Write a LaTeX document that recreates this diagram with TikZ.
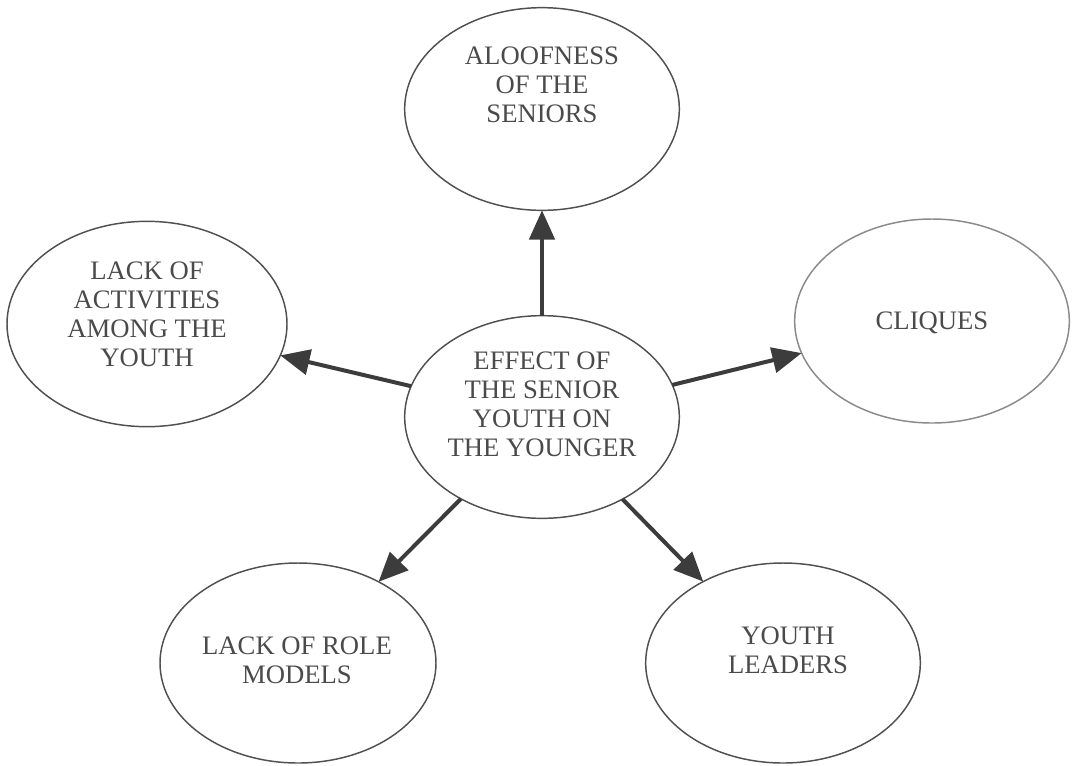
\documentclass[tikz,border=0pt]{standalone}
\usepackage{fontspec}
\setmainfont{Liberation Serif}
\usetikzlibrary{shapes.geometric,arrows.meta}
\definecolor{inkgray}{HTML}{4A4A4A}
\definecolor{ringgray}{HTML}{505050}
\definecolor{lightring}{HTML}{8A8A8A}
\definecolor{arrowgray}{HTML}{3C3C3C}
\begin{document}
\begin{tikzpicture}[x=0.75pt,y=-0.75pt,
  bubble/.style={ellipse,draw=ringgray,line width=1.1pt,inner sep=0pt,outer sep=0pt},
  label/.style={anchor=north,align=center,inner sep=0pt,text=inkgray,font=\fontsize{20}{21.75}\selectfont},
  link/.style={draw=arrowgray,line width=3pt,-{Triangle[length=22pt,width=19pt]}}]
\useasboundingbox (0,0) rectangle (1075,765);
% ellipses
\node[bubble,minimum width=206pt,minimum height=152pt] (c) at (542,417) {};
\node[bubble,minimum width=206pt,minimum height=152pt] (top) at (542,109) {};
\node[bubble,minimum width=210pt,minimum height=154pt] (left) at (147,324) {};
\node[bubble,draw=lightring,minimum width=206pt,minimum height=153pt] (right) at (932,321) {};
\node[bubble,minimum width=207pt,minimum height=150pt] (bl) at (298,663) {};
\node[bubble,minimum width=206pt,minimum height=150pt] (br) at (783,663) {};
% texts
\node[label] (tc) at (542,352) {EFFECT OF\\THE SENIOR\\YOUTH ON\\THE YOUNGER};
\node[label] (ttop) at (542,47) {ALOOFNESS\\OF THE\\SENIORS};
\node[label] (tleft) at (147,262) {LACK OF\\ACTIVITIES\\AMONG THE\\YOUTH};
\node[label] (tright) at (932,312) {CLIQUES};
\node[label] (tbl) at (297,637) {LACK OF ROLE\\MODELS};
\node[label] (tbr) at (788,627) {YOUTH\\LEADERS};
% connectors
\draw[link] (c) -- (top);
\draw[link] (c) -- (left);
\draw[link] (c) -- (right);
\draw[link] (c) -- (bl);
\draw[link] (c) -- (br);
\end{tikzpicture}
\end{document}
